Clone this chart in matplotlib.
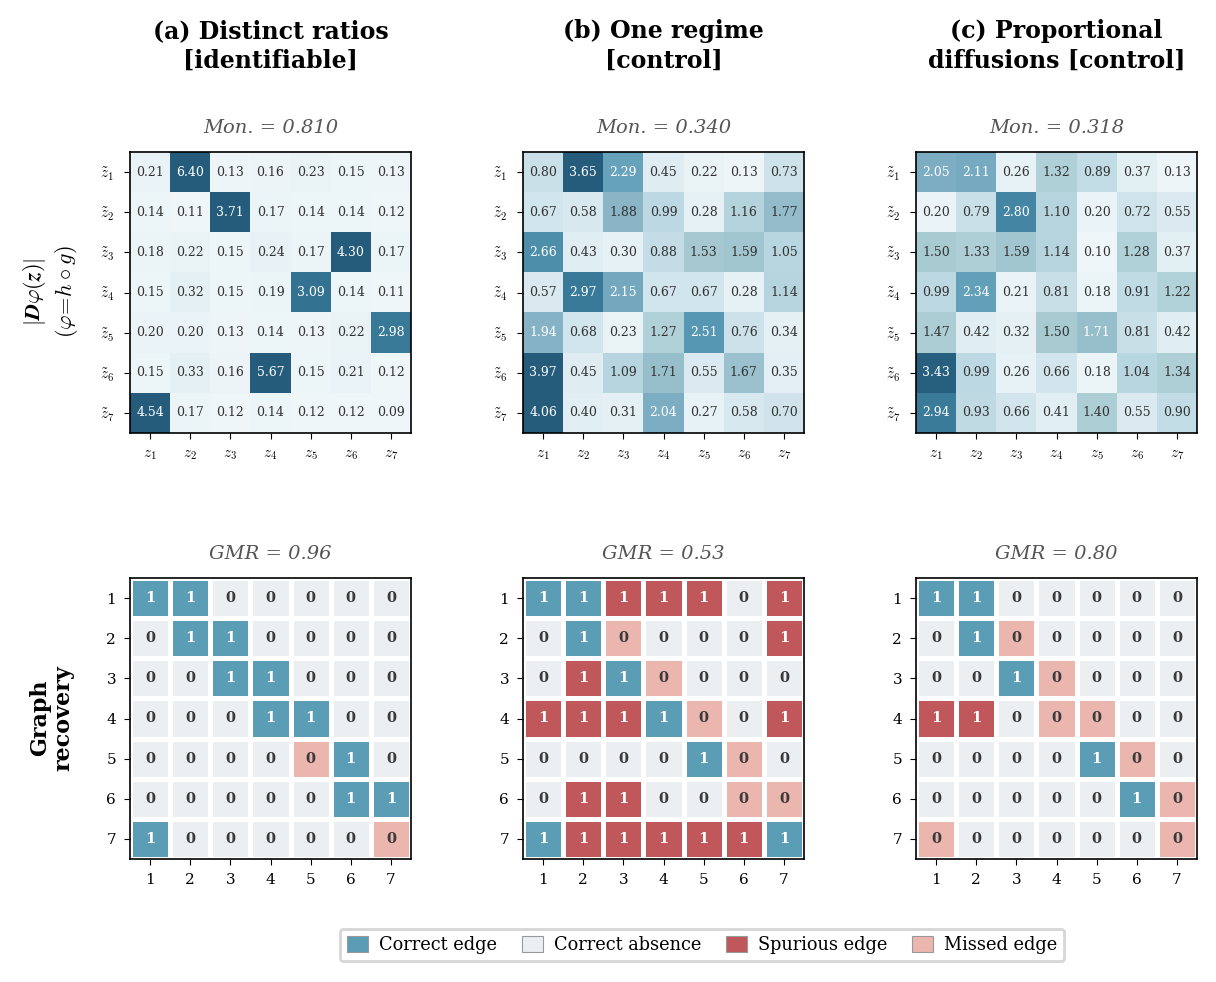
import numpy as np
import matplotlib
matplotlib.use("Agg")
import matplotlib.pyplot as plt
from matplotlib.colors import LinearSegmentedColormap, ListedColormap
from matplotlib.patches import Patch

plt.rcParams['font.family'] = 'DejaVu Serif'
plt.rcParams['mathtext.fontset'] = 'cm'

panel_titles = ["(a) Distinct ratios\n[identifiable]",
                "(b) One regime\n[control]",
                "(c) Proportional\ndiffusions [control]"]
mon_scores = [0.810, 0.340, 0.318]
gmr_scores = [0.96, 0.53, 0.80]

jac_a = [[0.21, 6.40, 0.13, 0.16, 0.23, 0.15, 0.13],
         [0.14, 0.11, 3.71, 0.17, 0.14, 0.14, 0.12],
         [0.18, 0.22, 0.15, 0.24, 0.17, 4.30, 0.17],
         [0.15, 0.32, 0.15, 0.19, 3.09, 0.14, 0.11],
         [0.20, 0.20, 0.13, 0.14, 0.13, 0.22, 2.98],
         [0.15, 0.33, 0.16, 5.67, 0.15, 0.21, 0.12],
         [4.54, 0.17, 0.12, 0.14, 0.12, 0.12, 0.09]]
jac_b = [[0.80, 3.65, 2.29, 0.45, 0.22, 0.13, 0.73],
         [0.67, 0.58, 1.88, 0.99, 0.28, 1.16, 1.77],
         [2.66, 0.43, 0.30, 0.88, 1.53, 1.59, 1.05],
         [0.57, 2.97, 2.15, 0.67, 0.67, 0.28, 1.14],
         [1.94, 0.68, 0.23, 1.27, 2.51, 0.76, 0.34],
         [3.97, 0.45, 1.09, 1.71, 0.55, 1.67, 0.35],
         [4.06, 0.40, 0.31, 2.04, 0.27, 0.58, 0.70]]
jac_c = [[2.05, 2.11, 0.26, 1.32, 0.89, 0.37, 0.13],
         [0.20, 0.79, 2.80, 1.10, 0.20, 0.72, 0.55],
         [1.50, 1.33, 1.59, 1.14, 0.10, 1.28, 0.37],
         [0.99, 2.34, 0.21, 0.81, 0.18, 0.91, 1.22],
         [1.47, 0.42, 0.32, 1.50, 1.71, 0.81, 0.42],
         [3.43, 0.99, 0.26, 0.66, 0.18, 1.04, 1.34],
         [2.94, 0.93, 0.66, 0.41, 1.40, 0.55, 0.90]]

# ground-truth graph (chain with wrap-around)
true_graph = [[1, 1, 0, 0, 0, 0, 0],
              [0, 1, 1, 0, 0, 0, 0],
              [0, 0, 1, 1, 0, 0, 0],
              [0, 0, 0, 1, 1, 0, 0],
              [0, 0, 0, 0, 1, 1, 0],
              [0, 0, 0, 0, 0, 1, 1],
              [1, 0, 0, 0, 0, 0, 1]]
pred_a = [[1, 1, 0, 0, 0, 0, 0],
          [0, 1, 1, 0, 0, 0, 0],
          [0, 0, 1, 1, 0, 0, 0],
          [0, 0, 0, 1, 1, 0, 0],
          [0, 0, 0, 0, 0, 1, 0],
          [0, 0, 0, 0, 0, 1, 1],
          [1, 0, 0, 0, 0, 0, 0]]
pred_b = [[1, 1, 1, 1, 1, 0, 1],
          [0, 1, 0, 0, 0, 0, 1],
          [0, 1, 1, 0, 0, 0, 0],
          [1, 1, 1, 1, 0, 0, 1],
          [0, 0, 0, 0, 1, 0, 0],
          [0, 1, 1, 0, 0, 0, 0],
          [1, 1, 1, 1, 1, 1, 1]]
pred_c = [[1, 1, 0, 0, 0, 0, 0],
          [0, 1, 0, 0, 0, 0, 0],
          [0, 0, 1, 0, 0, 0, 0],
          [1, 1, 0, 0, 0, 0, 0],
          [0, 0, 0, 0, 1, 0, 0],
          [0, 0, 0, 0, 0, 1, 0],
          [0, 0, 0, 0, 0, 0, 0]]

jacobians = [jac_a, jac_b, jac_c]
predictions = [pred_a, pred_b, pred_c]
n = 7
row_labels = [r"$\tilde{z}_{%d}$" % (i + 1) for i in range(n)]
col_labels = [r"$z_{%d}$" % (i + 1) for i in range(n)]
legend_labels = ["Correct edge", "Correct absence", "Spurious edge", "Missed edge"]
cat_colors = ["#5b9db5", "#eceff2", "#c0575a", "#ebb6ae"]

jac_cmap = LinearSegmentedColormap.from_list(
    "jac", [(0.0, "#f3f9fb"), (0.15, "#dcebf1"), (0.3, "#b8d6e0"),
            (0.42, "#abcdd3"), (0.55, "#87b3c6"), (0.7, "#5a9cb7"),
            (0.85, "#3a7a99"), (1.0, "#255c7c")])
cat_cmap = ListedColormap(cat_colors)

fig = plt.figure(figsize=(12.16, 9.82), dpi=100)
W, H = 1216, 982
lefts = [130, 523, 916]
size = 281

for k in range(3):
    # ---- top: Jacobian magnitude ----
    ax = fig.add_axes([lefts[k] / W, 1 - (152 + size) / H, size / W, size / H])
    J = np.array(jacobians[k])
    ax.imshow(J, cmap=jac_cmap, vmin=0, vmax=3.5, aspect='auto')
    thr = 0.465 * J.max()
    for i in range(n):
        for j in range(n):
            ax.text(j, i, f"{J[i, j]:.2f}", ha='center', va='center', fontsize=9,
                    color='white' if J[i, j] > thr else '#333333')
    ax.set_xticks(range(n))
    ax.set_xticklabels(col_labels, fontsize=11)
    ax.set_yticks(range(n))
    ax.set_yticklabels(row_labels, fontsize=11)
    ax.tick_params(length=4, width=0.8, pad=7)
    for s in ax.spines.values():
        s.set_linewidth(1.2)
    ax.set_title(f"Mon. = {mon_scores[k]:.3f}", fontsize=14, style='italic',
                 color='#555555', pad=14)
    fig.text((lefts[k] + size / 2) / W, 1 - 46 / H, panel_titles[k], ha='center',
             va='center', fontsize=17, fontweight='bold', linespacing=1.3)

    # ---- bottom: graph recovery ----
    ax2 = fig.add_axes([lefts[k] / W, 1 - (578 + size) / H, size / W, size / H])
    T = np.array(true_graph)
    P = np.array(predictions[k])
    cat = np.where(P == 1, np.where(T == 1, 0, 2), np.where(T == 1, 3, 1))
    ax2.pcolormesh(np.arange(n + 1) - 0.5, np.arange(n + 1) - 0.5, cat,
                   cmap=cat_cmap, vmin=-0.5, vmax=3.5, edgecolors='white', linewidth=2.5)
    ax2.set_xlim(-0.5, n - 0.5)
    ax2.set_ylim(n - 0.5, -0.5)
    for i in range(n):
        for j in range(n):
            ax2.text(j, i, str(P[i, j]), ha='center', va='center', fontsize=10.5,
                     fontweight='bold',
                     color='white' if cat[i, j] in (0, 2) else '#3a3a3a')
    ax2.set_xticks(range(n))
    ax2.set_xticklabels([str(i + 1) for i in range(n)], fontsize=11)
    ax2.set_yticks(range(n))
    ax2.set_yticklabels([str(i + 1) for i in range(n)], fontsize=11)
    ax2.tick_params(length=4, width=0.8, pad=6)
    for s in ax2.spines.values():
        s.set_linewidth(1.2)
    ax2.set_title(f"GMR = {gmr_scores[k]:.2f}", fontsize=14, style='italic',
                  color='#555555', pad=14)

fig.text(35 / W, 1 - 292 / H, r"$|\mathbfit{D}\varphi(\mathbfit{z})|$", rotation=90,
         ha='center', va='center', fontsize=16)
fig.text(67 / W, 1 - 292 / H, r"$(\varphi\!=\!h\circ g)$", rotation=90,
         ha='center', va='center', fontsize=16)
fig.text(52 / W, 1 - 718 / H, "Graph\nrecovery", rotation=90, ha='center', va='center',
         fontsize=16, fontweight='bold', linespacing=1.05)

handles = [Patch(facecolor=c, edgecolor='#999999', linewidth=0.8) for c in cat_colors]
fig.legend(handles, legend_labels, loc='center', bbox_to_anchor=(702 / W, 1 - 945 / H),
           ncol=4, fontsize=12.8, frameon=True, edgecolor='#cccccc', fancybox=True,
           handlelength=1.2, handleheight=1.0, columnspacing=1.4, handletextpad=0.6,
           borderpad=0.4).get_frame().set_linewidth(2)

fig.savefig("out.png", dpi=100)
